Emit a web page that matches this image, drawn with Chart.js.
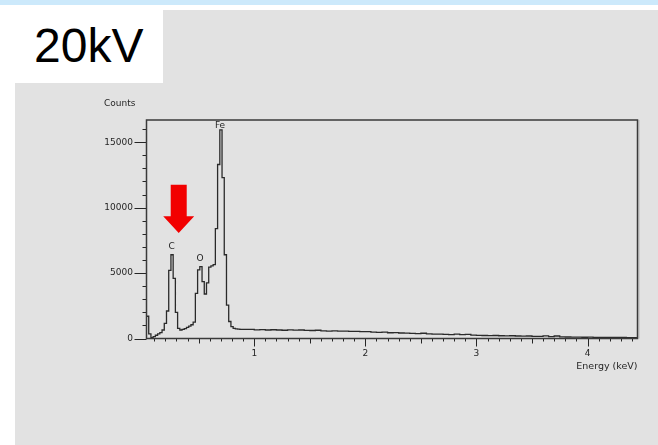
<!DOCTYPE html>
<html>
<head>
<meta charset="utf-8">
<script src="https://cdn.jsdelivr.net/npm/chart.js@4.4.1/dist/chart.umd.min.js"></script>
<style>
    html, body { margin: 0; padding: 0; width: 658px; height: 445px; overflow: hidden; background: #ffffff; }
    #topBar { position: absolute; left: 0; top: 0; width: 658px; height: 5px; background: #cce9fb; }
    #panel { position: absolute; left: 15px; top: 10px; width: 643px; height: 435px; background: #e2e2e2; }
    #kvBox { position: absolute; left: 15px; top: 10px; width: 148px; height: 73px; background: #ffffff; }
    #kvLabel { position: absolute; left: 34px; top: 22px; font: 48px "Liberation Sans", Arial, sans-serif; line-height: 48px; color: #000; }
    #spectrum { position: absolute; left: 0; top: 0; }
</style>
</head>
<body>
<div id="topBar"></div>
<div id="panel"></div>
<div id="kvBox"></div>
<div id="kvLabel">20kV</div>
<canvas id="spectrum" width="658" height="445"></canvas>

<script>
/* EDS spectrum, 20 kV */

// channel start energies (keV)
const energyKeV = [
    0.03, 0.05, 0.07, 0.09, 0.11, 0.13, 0.15, 0.17, 0.19, 0.21,
    0.23, 0.25, 0.27, 0.29, 0.31, 0.33, 0.35, 0.37, 0.39, 0.41,
    0.43, 0.45, 0.47, 0.49, 0.51, 0.53, 0.55, 0.57, 0.59, 0.61,
    0.63, 0.65, 0.67, 0.69, 0.71, 0.73, 0.75, 0.77, 0.79, 0.81,
    0.83, 0.85, 0.87,
    0.90, 0.95, 1.00, 1.05, 1.10, 1.15, 1.20, 1.25, 1.30, 1.35,
    1.40, 1.45, 1.50, 1.55, 1.60, 1.65, 1.70, 1.75, 1.80, 1.85,
    1.90, 1.95, 2.00, 2.05, 2.10, 2.15, 2.20, 2.25, 2.30, 2.35,
    2.40, 2.45, 2.50, 2.55, 2.60, 2.65, 2.70, 2.75, 2.80, 2.85,
    2.90, 2.95, 3.00, 3.05, 3.10, 3.15, 3.20, 3.25, 3.30, 3.35,
    3.40, 3.45, 3.50, 3.55, 3.60, 3.65, 3.70, 3.75, 3.80, 3.85,
    3.90, 3.95, 4.00, 4.05, 4.10, 4.15, 4.20, 4.25, 4.30, 4.35,
    4.40, 4.45
];

const counts = [
    1700, 350, 60, 150, 250, 350, 450, 650, 1150, 2100,
    5200, 6400, 4600, 2000, 780, 650, 700, 750, 850, 950,
    1050, 1250, 3450, 5250, 5500, 4350, 3400, 4250, 5450, 5550,
    5650, 8400, 13300, 15950, 12300, 6400, 2550, 1300, 900, 780,
    730, 710, 700,
    700, 690, 660, 680, 650, 670, 650, 630, 660, 640,
    650, 620, 610, 630, 590, 570, 590, 560, 570, 540,
    550, 520, 530, 490, 470, 490, 440, 450, 420, 410,
    390, 370, 400, 350, 340, 330, 320, 300, 330, 290,
    320, 260, 240, 230, 220, 230, 210, 200, 210, 190,
    180, 190, 170, 160, 200, 150, 190, 120, 115, 105,
    100, 95, 100, 90, 90, 85, 80, 80, 75, 70,
    70, 70
];

// element markers
const peakNames = ['C', 'O', 'Fe'];
const peakLabelKeV = [0.257, 0.512, 0.692];
const peakLabelCounts = [7000, 6130, 16240];

// labelled ticks
const xMajorTicks = [1, 2, 3, 4];
const yMajorTicks = [0, 5000, 10000, 15000];
const xMinorStep = 0.1;
const yMinorStep = 1000;

const FONT = '"DejaVu Sans", Verdana, sans-serif';
const INK = '#262626';

function minorTicks(scale, step) {
    const out = [];
    for (let k = Math.ceil(scale.min / step - 1e-9); k * step <= scale.max + 1e-9; k++) {
        out.push({ value: Math.round(k * step * 1000) / 1000 });
    }
    return out;
}

function isMajor(v, majors) {
    return majors.some(m => Math.abs(m - v) < 1e-6);
}

// frame + tick marks (minor / half / major)
const frameTicks = {
    id: 'frameTicks',
    afterDatasetsDraw(chart) {
        const { ctx, chartArea: a, scales: { x, y } } = chart;
        ctx.save();
        ctx.strokeStyle = INK;
        ctx.lineWidth = 1;
        ctx.beginPath();
        x.ticks.forEach(t => {
            const px = Math.round(x.getPixelForValue(t.value)) + 0.5;
            const half = Math.abs(t.value * 2 - Math.round(t.value * 2)) < 1e-6;
            const len = isMajor(t.value, xMajorTicks) ? 8 : (half ? 5 : 3);
            ctx.moveTo(px, a.bottom);
            ctx.lineTo(px, a.bottom + len);
        });
        y.ticks.forEach(t => {
            const py = Math.round(y.getPixelForValue(t.value)) + 0.5;
            const len = isMajor(t.value, yMajorTicks) ? 12 : 4;
            ctx.moveTo(a.left, py);
            ctx.lineTo(a.left - len, py);
        });
        ctx.stroke();

        // light shadow along the right edge
        ctx.strokeStyle = '#b8b8b8';
        ctx.beginPath();
        ctx.moveTo(a.right + 1.5, a.top);
        ctx.lineTo(a.right + 1.5, a.bottom);
        ctx.stroke();

        ctx.strokeStyle = '#3a3a3a';
        ctx.lineWidth = 1.5;
        ctx.strokeRect(a.left, a.top, a.right - a.left, a.bottom - a.top);
        ctx.restore();
    }
};

// axis captions, peak names and the red marker arrow
const annotations = {
    id: 'annotations',
    afterDraw(chart, args, opts) {
        const { ctx, chartArea: a, scales: { x, y } } = chart;
        ctx.save();
        ctx.fillStyle = INK;
        ctx.font = '9px ' + FONT;
        ctx.textBaseline = 'middle';
        ctx.textAlign = 'right';
        ctx.fillText('Counts', a.left - 11, a.top - 16);
        ctx.font = '9.5px ' + FONT;
        ctx.fillText('Energy (keV)', a.right, a.bottom + 28.5);

        ctx.font = '9px ' + FONT;
        ctx.textAlign = 'center';
        peakNames.forEach((name, i) => {
            ctx.fillText(name, x.getPixelForValue(peakLabelKeV[i]), y.getPixelForValue(peakLabelCounts[i]));
        });

        const ar = opts.arrow;
        const cx = x.getPixelForValue(ar.keV);
        const top = y.getPixelForValue(ar.topCounts);
        const tip = y.getPixelForValue(ar.tipCounts);
        const neck = tip - ar.headLen;
        ctx.fillStyle = ar.color;
        ctx.beginPath();
        ctx.moveTo(cx - ar.shaftHalf, top);
        ctx.lineTo(cx + ar.shaftHalf, top);
        ctx.lineTo(cx + ar.shaftHalf, neck);
        ctx.lineTo(cx + ar.headHalf, neck);
        ctx.lineTo(cx, tip);
        ctx.lineTo(cx - ar.headHalf, neck);
        ctx.lineTo(cx - ar.shaftHalf, neck);
        ctx.closePath();
        ctx.fill();
        ctx.restore();
    }
};

const ctx = document.getElementById('spectrum').getContext('2d');
new Chart(ctx, {
    type: 'line',
    data: {
        datasets: [{
            label: 'Counts',
            data: energyKeV.map((e, i) => ({ x: e, y: counts[i] })),
            stepped: true,
            borderColor: '#2a2a2a',
            borderWidth: 1.3,
            pointRadius: 0,
            fill: false
        }]
    },
    options: {
        responsive: false,
        animation: false,
        events: [],
        layout: {
            padding: { left: 0, top: 120, right: 20.5, bottom: 0 }
        },
        plugins: {
            legend: { display: false },
            tooltip: { enabled: false },
            annotations: {
                arrow: {
                    keV: 0.32,
                    topCounts: 11750,
                    tipCounts: 8060,
                    shaftHalf: 8,
                    headHalf: 15.5,
                    headLen: 16.7,
                    color: '#f20000'
                }
            }
        },
        scales: {
            x: {
                type: 'linear',
                min: 0.03,
                max: 4.45,
                afterBuildTicks: scale => { scale.ticks = minorTicks(scale, xMinorStep); },
                afterFit: scale => { scale.height = 106.5; },
                grid: { display: false, drawTicks: false },
                border: { display: false },
                ticks: {
                    autoSkip: false,
                    maxRotation: 0,
                    padding: 10,
                    color: INK,
                    font: { family: FONT, size: 9 },
                    callback: v => (isMajor(v, xMajorTicks) ? String(Math.round(v)) : '')
                }
            },
            y: {
                type: 'linear',
                min: 0,
                max: 16700,
                afterBuildTicks: scale => { scale.ticks = minorTicks(scale, yMinorStep); },
                afterFit: scale => { scale.width = 146.5; },
                grid: { display: false, drawTicks: false },
                border: { display: false },
                ticks: {
                    autoSkip: false,
                    padding: 13.5,
                    color: INK,
                    font: { family: FONT, size: 9 },
                    callback: v => (isMajor(v, yMajorTicks) ? String(Math.round(v)) : '')
                }
            }
        }
    },
    plugins: [frameTicks, annotations]
});
</script>
</body>
</html>
